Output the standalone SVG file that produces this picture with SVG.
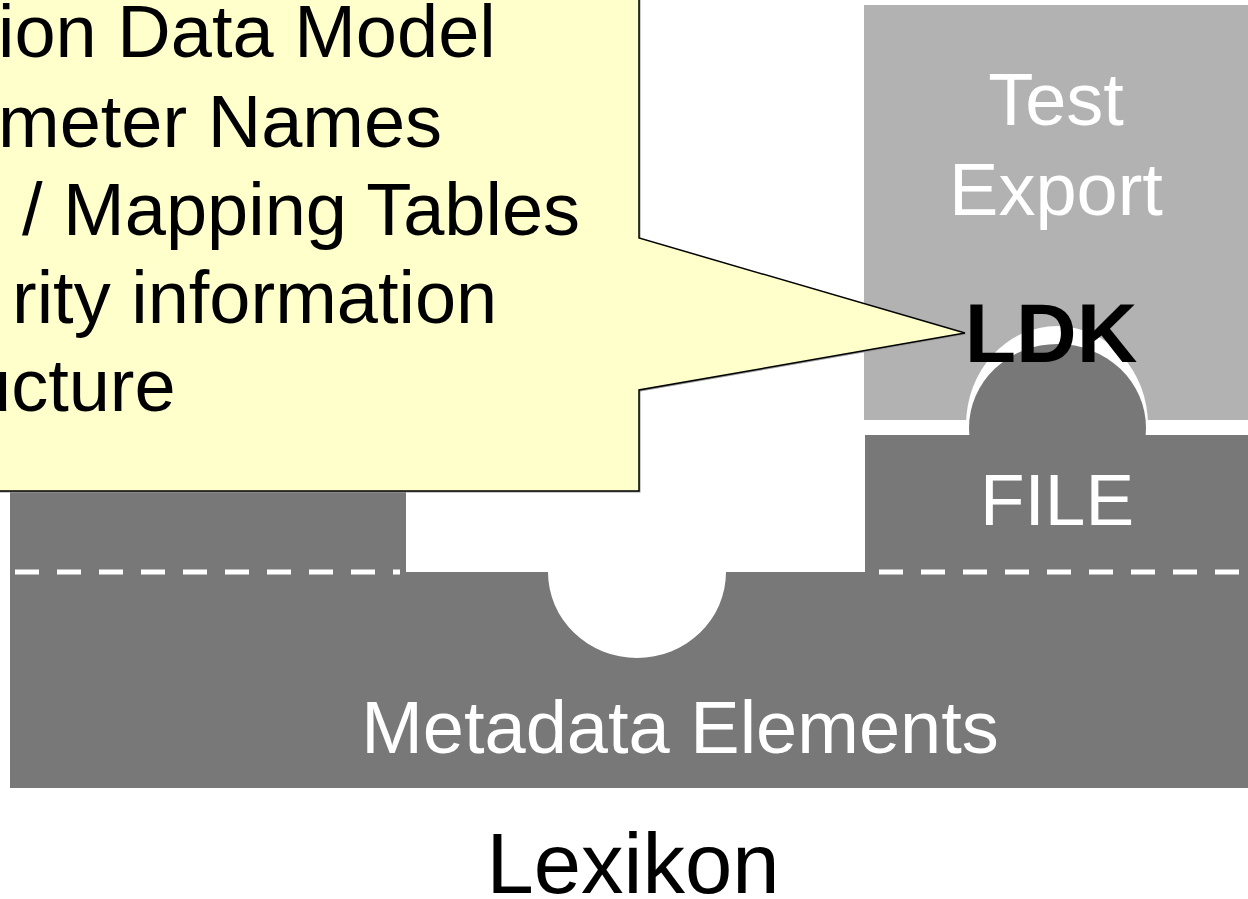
<svg xmlns="http://www.w3.org/2000/svg" width="1248" height="899" viewBox="0 0 1248 899">
<style>
.t{font-family:"Liberation Sans",Arial,sans-serif;}
.w{fill:#ffffff;}
.k{fill:#000000;}
.dark{fill:#787878;}
.light{fill:#b2b2b2;}
.dash{stroke:#ffffff;stroke-width:5;stroke-dasharray:24 18;fill:none;}
</style>
<rect x="0" y="0" width="1248" height="899" fill="#ffffff"/>
<g id="test-export">
  <rect class="light" x="864" y="5" width="400" height="415"/>
  <ellipse cx="1057" cy="425" rx="91" ry="99" fill="#ffffff"/>
  <text class="t w" x="1056" y="125" font-size="74" text-anchor="middle">Test</text>
  <text class="t w" x="1056" y="215" font-size="74" text-anchor="middle">Export</text>
</g>
<g id="metadata-elements">
  <path class="dark" d="M10,300 H406 V572 H548 A89,86 0 0 0 726,572 H865 V788 H10 Z"/>
  <rect class="dark" x="860" y="572" width="400" height="216"/>
  <line class="dash" x1="15" y1="572" x2="400" y2="572"/>
  <text class="t w" x="680" y="753" font-size="74" text-anchor="middle">Metadata Elements</text>
</g>
<g id="file">
  <rect class="dark" x="865" y="435" width="400" height="140"/>
  <ellipse class="dark" cx="1057.5" cy="428" rx="88.5" ry="84"/>
  <line class="dash" x1="879" y1="572" x2="1248" y2="572"/>
  <text class="t w" x="1057" y="525" font-size="73" text-anchor="middle">FILE</text>
</g>
<g id="ldk">
  <text class="t k" x="1051" y="362" font-size="84" font-weight="bold" text-anchor="middle">LDK</text>
</g>
<g id="callout">
  <path d="M-10,-10 H639 V238 L965,333 L639,390 V491 H-10 Z" fill="#9a9a9a" transform="translate(1.5,1.5)"/>
  <path d="M-10,-10 H639 V238 L965,333 L639,390 V491 H-10 Z" fill="#ffffcc" stroke="#000000" stroke-width="1.5"/>
  <text class="t k" x="-2" y="57" font-size="74">ion Data Model</text>
  <text class="t k" x="-2" y="147" font-size="74">meter Names</text>
  <text class="t k" x="22" y="235" font-size="74">/ Mapping Tables</text>
  <text class="t k" x="12" y="323" font-size="74">rity information</text>
  <text class="t k" x="-30" y="411" font-size="74">ucture</text>
</g>
<g id="lexikon">
  <text class="t k" x="633" y="893" font-size="85" text-anchor="middle">Lexikon</text>
</g>
</svg>
